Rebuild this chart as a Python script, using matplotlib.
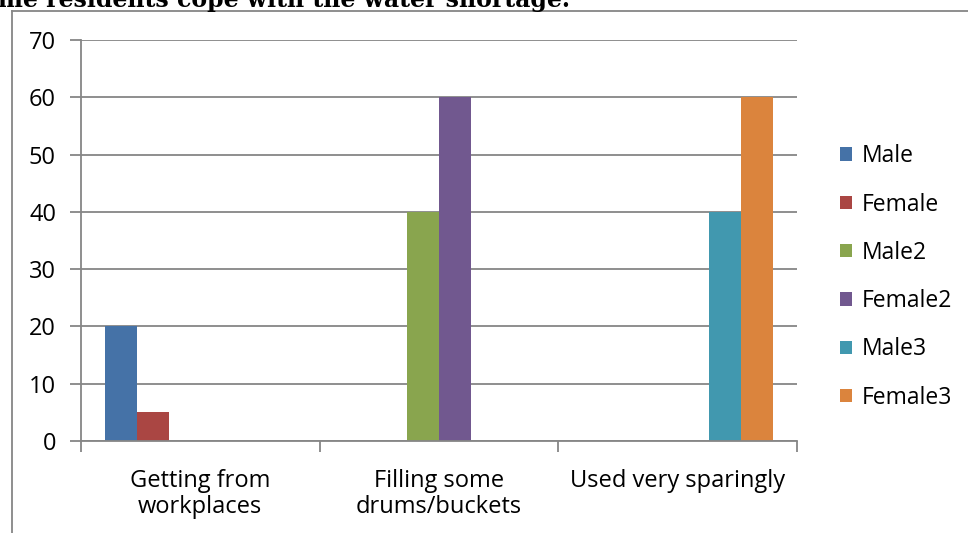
import matplotlib
matplotlib.use("Agg")
import matplotlib.pyplot as plt
from matplotlib.patches import Patch
from matplotlib.lines import Line2D
import numpy as np

categories = ["Getting from\nworkplaces", "Filling some\ndrums/buckets", "Used very sparingly"]
series_names = ["Male", "Female", "Male2", "Female2", "Male3", "Female3"]
male = [20, 0, 0]
female = [5, 0, 0]
male2 = [0, 40, 0]
female2 = [0, 60, 0]
male3 = [0, 0, 40]
female3 = [0, 0, 60]
series_values = [male, female, male2, female2, male3, female3]
colors = ["#4572A7", "#AA4643", "#89A54E", "#71588F", "#4198AF", "#DB843D"]
y_ticks = [0, 10, 20, 30, 40, 50, 60, 70]
title_text = "me residents cope with the water shortage."

W, H = 968, 533
fig = plt.figure(figsize=(W / 100, H / 100), dpi=100)
fig.patch.set_facecolor("white")

FONT = "Open Sans"
grey = "#868686"

# outer chart border (top and left visible)
fig.add_artist(Line2D([12 / W, 1.0], [1 - 10.5 / H, 1 - 10.5 / H], transform=fig.transFigure,
                      color=grey, lw=1.3))
fig.add_artist(Line2D([12 / W, 12 / W], [1 - 10.5 / H, 0.0], transform=fig.transFigure,
                      color=grey, lw=1.3))

# title (cut off at top in the reference)
fig.text(-2 / W, 1 - 7 / H, title_text, family="DejaVu Serif", fontweight="bold",
         fontsize=17, ha="left", va="baseline", color="black")

ax = fig.add_axes([81 / W, (H - 441) / H, (797 - 81) / W, (441 - 40) / H])
n = len(series_values)
gap = 0.1
bw = (1 - 2 * gap) / n
x = np.arange(len(categories))
for j, (vals, c) in enumerate(zip(series_values, colors)):
    offs = -0.5 + gap + (j + 0.5) * bw
    ax.bar(x + offs, vals, width=bw, color=c, zorder=3, linewidth=0)

ax.set_xlim(-0.5, len(categories) - 0.5)
ax.set_ylim(0, 70)
ax.set_yticks(y_ticks)
ax.set_yticklabels([str(v) for v in y_ticks], family=FONT, fontsize=17)
ax.yaxis.grid(True, color=grey, lw=1.3, zorder=0)
ax.tick_params(axis="y", length=8, width=1.3, color=grey, pad=10)

ax.set_xticks(x)
ax.set_xticklabels(categories, family=FONT, fontsize=17, linespacing=1.15)
ax.set_xticks(np.arange(len(categories) + 1) - 0.5, minor=True)
ax.tick_params(axis="x", which="major", length=0, pad=20)
ax.tick_params(axis="x", which="minor", length=8, width=1.3, color=grey)

for s in ["top", "right"]:
    ax.spines[s].set_visible(False)
for s in ["left", "bottom"]:
    ax.spines[s].set_color(grey)
    ax.spines[s].set_linewidth(1.3)
    ax.spines[s].set_zorder(4)

handles = [Patch(facecolor=c, edgecolor="none", label=nm) for c, nm in zip(colors, series_names)]
leg = fig.legend(handles=handles, loc="center left", bbox_to_anchor=(840 / W, 1 - 277 / H),
                 frameon=False, prop={"family": FONT, "size": 16.5},
                 handlelength=0.52, handleheight=0.52, handletextpad=0.43, labelspacing=1.06,
                 borderaxespad=0, borderpad=0)

fig.savefig("out.png", dpi=100, facecolor="white")
